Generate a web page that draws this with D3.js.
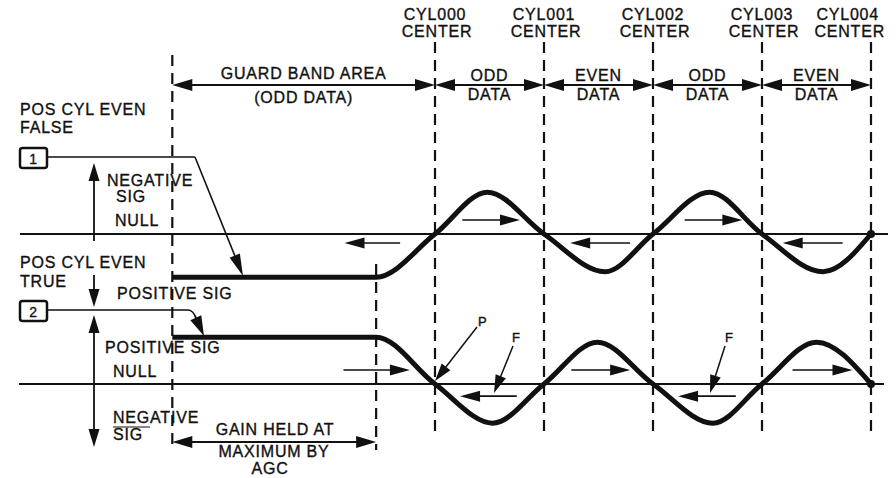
<!DOCTYPE html>
<html><head><meta charset="utf-8">
<script src="https://cdn.jsdelivr.net/npm/d3@7"></script>
<style>
html,body{margin:0;padding:0;background:#fff;}
svg text{font-family:"Liberation Sans",Arial,sans-serif;font-size:16px;fill:#111;stroke:#111;stroke-width:0.35px;letter-spacing:0.8px;}
</style></head>
<body><svg id="c" width="896" height="478"></svg>
<script>
// ---- data ----
const cylinderLabels = ["CYL000","CYL001","CYL002","CYL003","CYL004"];
const cylinderPos = [0,1,2,3,4];
const guardStart = -2.41;
const agcEnd = -0.54;
const spanTop = ["ODD","EVEN","ODD","EVEN"];
const spanBottom = ["DATA","DATA","DATA","DATA"];
// waveform 1 (POS CYL EVEN FALSE)
const upperX = [-2.41,-0.54,0,0.48,1,1.56,2,2.52,3,3.56,4];
const upperV = [-0.96,-0.96,0,0.93,0,-0.84,0,0.93,0,-0.84,0];
// waveform 2 (POS CYL EVEN TRUE)
const lowerX = [-2.41,-0.54,0,0.53,1,1.49,2,2.55,3,3.5,4];
const lowerV = [1.04,1.04,0,-0.87,0,0.93,0,-0.87,0,0.93,0];
// flow arrows: from, to, level
const upperFlowFrom = [-0.32,0.25,1.79,2.29,3.74];
const upperFlowTo   = [-0.83,0.78,1.24,2.82,3.19];
const upperFlowLvl  = [-0.2,0.31,-0.2,0.31,-0.2];
const lowerFlowFrom = [-0.84,0.75,1.25,2.76,3.28];
const lowerFlowTo   = [-0.23,0.23,1.79,2.23,3.83];
const lowerFlowLvl  = [0.31,-0.27,0.31,-0.27,0.31];

// ---- scales ----
const x = d3.scaleLinear().domain([0,4]).range([435,871]);
const yU = d3.scaleLinear().domain([-1,1]).range([279,189]);
const yL = d3.scaleLinear().domain([-1,1]).range([429,339]);

const svg = d3.select("#c");
const ink = "#111";

function head(g, x1,y1,x2,y2,len,hw){
  const a = Math.atan2(y2-y1,x2-x1), c=Math.cos(a), s=Math.sin(a);
  const bx=x2-len*c, by=y2-len*s;
  g.append("path").attr("d",`M${x2},${y2}L${bx-hw*s},${by+hw*c}L${bx+hw*s},${by-hw*c}Z`).attr("fill",ink);
  return [bx+0.3*len*c, by+0.3*len*s];
}
function arrow(g,x1,y1,x2,y2,o={}){
  const len=o.len||18, hw=o.hw||5.5, w=o.w||1.6;
  let [ex,ey]=head(g,x1,y1,x2,y2,len,hw);
  let sx=x1, sy=y1;
  if(o.both){ [sx,sy]=head(g,x2,y2,x1,y1,len,hw); }
  g.append("line").attr("x1",sx).attr("y1",sy).attr("x2",ex).attr("y2",ey).attr("stroke",ink).attr("stroke-width",w);
}
function text(t,px,py,anchor){
  return svg.append("text").attr("x",px).attr("y",py).attr("text-anchor",anchor||"start").text(t);
}

// ---- dashed verticals ----
const dash = "11,7";
cylinderPos.forEach(c=>{
  svg.append("line").attr("x1",x(c)).attr("x2",x(c)).attr("y1",42).attr("y2",436)
    .attr("stroke",ink).attr("stroke-width",2.2).attr("stroke-dasharray",dash);
});
svg.append("line").attr("x1",x(guardStart)).attr("x2",x(guardStart)).attr("y1",55).attr("y2",448)
  .attr("stroke",ink).attr("stroke-width",2.2).attr("stroke-dasharray",dash);
svg.append("line").attr("x1",x(agcEnd)).attr("x2",x(agcEnd)).attr("y1",264).attr("y2",450)
  .attr("stroke",ink).attr("stroke-width",2.2).attr("stroke-dasharray",dash);

// ---- cylinder labels ----
cylinderLabels.forEach((l,i)=>{
  const last = i===cylinderLabels.length-1;
  text(l, last?879:x(cylinderPos[i]), 20, last?"end":"middle");
  text("CENTER", last?885:x(cylinderPos[i])+2, 37, last?"end":"middle");
});

// ---- top span arrows ----
const gTop = svg.append("g");
arrow(gTop, x(guardStart),85, x(0),85, {both:true,len:20,hw:6,w:1.8});
text("GUARD BAND AREA",(x(guardStart)+x(0))/2,79,"middle");
text("(ODD DATA)",(x(guardStart)+x(0))/2,103,"middle");
spanTop.forEach((t,i)=>{
  arrow(gTop, x(cylinderPos[i]),85, x(cylinderPos[i+1]),85, {both:true,len:20,hw:6,w:1.8});
  const cx=(x(cylinderPos[i])+x(cylinderPos[i+1]))/2;
  text(t,cx,81,"middle");
  text(spanBottom[i],cx,100,"middle");
});

// ---- null lines ----
svg.append("line").attr("x1",20).attr("x2",888).attr("y1",yU(0)).attr("y2",yU(0)).attr("stroke",ink).attr("stroke-width",2);
svg.append("line").attr("x1",19).attr("x2",884).attr("y1",yL(0)).attr("y2",yL(0)).attr("stroke",ink).attr("stroke-width",2);

// ---- waveforms ----
const lineU = d3.line().x(d=>x(d[0])).y(d=>yU(d[1])).curve(d3.curveMonotoneX);
const lineL = d3.line().x(d=>x(d[0])).y(d=>yL(d[1])).curve(d3.curveMonotoneX);
svg.append("path").attr("d",lineU(upperX.map((v,i)=>[v,upperV[i]]))).attr("fill","none").attr("stroke",ink).attr("stroke-width",5).attr("stroke-linejoin","round");
svg.append("path").attr("d",lineL(lowerX.map((v,i)=>[v,lowerV[i]]))).attr("fill","none").attr("stroke",ink).attr("stroke-width",5).attr("stroke-linejoin","round");
svg.append("circle").attr("cx",x(4)).attr("cy",yU(0)).attr("r",4).attr("fill",ink);
svg.append("circle").attr("cx",x(4)).attr("cy",yL(0)).attr("r",4).attr("fill",ink);

// ---- flow arrows ----
const gFlow = svg.append("g");
upperFlowFrom.forEach((f,i)=>arrow(gFlow,x(f),yU(upperFlowLvl[i]),x(upperFlowTo[i]),yU(upperFlowLvl[i]),{len:20,hw:5.5,w:1.6}));
lowerFlowFrom.forEach((f,i)=>arrow(gFlow,x(f),yL(lowerFlowLvl[i]),x(lowerFlowTo[i]),yL(lowerFlowLvl[i]),{len:20,hw:5.5,w:1.6}));

// ---- left side labels ----
text("POS CYL EVEN",20,115);
text("FALSE",20,133);
text("NEGATIVE",107,186);
text("SIG",116,202);
text("NULL",115,226);
text("POS CYL EVEN",20,268);
text("TRUE",20,287);
text("POSITIVE SIG",117,299);
text("POSITIVE SIG",105,353);
text("NULL",113,377);
text("NEGATIVE",113,423);
text("SIG",113,440);
svg.append("line").attr("x1",113).attr("x2",150).attr("y1",427).attr("y2",427).attr("stroke",ink).attr("stroke-width",1.2);

// vertical arrows on the left
const gL = svg.append("g");
arrow(gL,94,241,94,163,{len:18,hw:5.5,w:1.8});
arrow(gL,94,275,94,307,{len:18,hw:5.5,w:1.8});
arrow(gL,94,315,94,447,{both:true,len:18,hw:5.5,w:1.8});

// boxes
[[20,148,"1"],[20,301,"2"]].forEach(b=>{
  svg.append("rect").attr("x",b[0]).attr("y",b[1]).attr("width",27).attr("height",20).attr("rx",2.5)
    .attr("fill","none").attr("stroke",ink).attr("stroke-width",2.5);
  svg.append("text").attr("x",b[0]+13.5).attr("y",b[1]+15.5).attr("text-anchor","middle").style("font-size","14px").text(b[2]);
});
// leader 1
const gB = svg.append("g");
gB.append("polyline").attr("points","47,157 195,157").attr("fill","none").attr("stroke",ink).attr("stroke-width",1.6);
arrow(gB,195,157,243,276,{len:22,hw:5.5,w:1.6});
// leader 2
gB.append("path").attr("d","M47,310 L188,310 Q193,310 196,318").attr("fill","none").attr("stroke",ink).attr("stroke-width",1.6);
arrow(gB,195,316,204,336,{len:20,hw:6,w:1.6});

// ---- P / F pointers ----
const gP = svg.append("g");
svg.append("text").attr("x",478).attr("y",326).style("font-size","13px").text("P");
arrow(gP,477,327,435,381,{len:18,hw:5.5,w:1.5});
svg.append("text").attr("x",512).attr("y",342).style("font-size","13px").text("F");
arrow(gP,513,346,494,393,{len:18,hw:5.5,w:1.5});
svg.append("text").attr("x",725).attr("y",342).style("font-size","13px").text("F");
arrow(gP,725,346,710,393,{len:18,hw:5.5,w:1.5});

// ---- bottom AGC span ----
const gA = svg.append("g");
arrow(gA,x(guardStart),442,x(agcEnd),442,{both:true,len:20,hw:6,w:1.8});
text("GAIN HELD AT",275,435,"middle");
text("MAXIMUM BY",274,457,"middle");
text("AGC",270,474,"middle");
</script></body></html>
